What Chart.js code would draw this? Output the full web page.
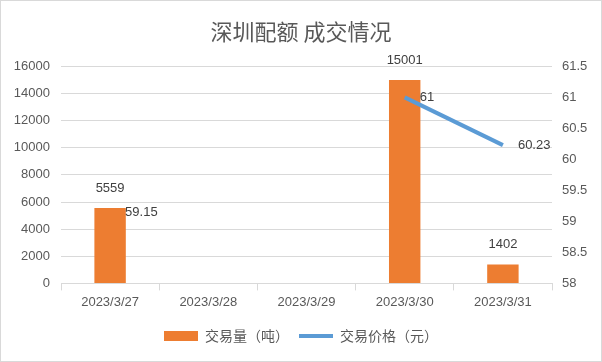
<!DOCTYPE html>
<html>
<head>
<meta charset="utf-8">
<script src="https://cdn.jsdelivr.net/npm/chart.js@4"></script>
<style>
html,body{margin:0;padding:0;background:#fff;}
#wrap{width:600px;height:360px;border:1px solid #d9d9d9;}
canvas{display:block;}
</style>
</head>
<body>
<div id="wrap"><canvas id="c" width="600" height="360"></canvas></div>
<script>
const categories = ['2023/3/27', '2023/3/28', '2023/3/29', '2023/3/30', '2023/3/31'];
const volume = [5559, null, null, 15001, 1402];
const price = [59.15, null, null, 61, 60.23];
const volumeLabels = ['5559', '', '', '15001', '1402'];
const priceLabels = ['59.15', '', '', '61', '60.23'];

const FONT = "'Liberation Sans', Arial, 'Noto Sans CJK SC', sans-serif";
const CJK = "'Noto Sans CJK SC', 'Liberation Sans', sans-serif";
const TXT = '#595959';

const labelPlugin = {
  id: 'labels',
  afterDatasetsDraw(chart) {
    const ctx = chart.ctx;
    ctx.save();
    ctx.font = '13px ' + FONT;
    ctx.fillStyle = '#404040';
    const barMeta = chart.getDatasetMeta(0);
    barMeta.data.forEach((el, i) => {
      if (volume[i] == null) return;
      ctx.textAlign = 'center';
      ctx.textBaseline = 'middle';
      ctx.fillText(volumeLabels[i], el.x, el.y - 20);
    });
    const lineMeta = chart.getDatasetMeta(1);
    lineMeta.data.forEach((el, i) => {
      if (price[i] == null) return;
      ctx.textAlign = 'left';
      ctx.textBaseline = 'middle';
      ctx.fillText(priceLabels[i], el.x + 15, el.y);
    });
    ctx.restore();
  }
};

new Chart(document.getElementById('c'), {
  data: {
    labels: categories,
    datasets: [
      {
        type: 'bar',
        label: '交易量（吨）',
        data: volume,
        backgroundColor: '#ed7d31',
        yAxisID: 'y',
        order: 2,
        barPercentage: 0.64,
        categoryPercentage: 0.5
      },
      {
        type: 'line',
        label: '交易价格（元）',
        data: price,
        borderColor: '#5b9bd5',
        backgroundColor: '#5b9bd5',
        borderWidth: 4,
        borderCapStyle: 'butt',
        pointRadius: 0,
        pointHoverRadius: 0,
        spanGaps: false,
        yAxisID: 'y1',
        order: 1
      }
    ]
  },
  options: {
    responsive: false,
    animation: false,
    layout: { padding: { left: 0, right: 0, top: 0, bottom: 8 } },
    plugins: {
      title: {
        display: true,
        text: '深圳配额 成交情况',
        color: TXT,
        font: { family: CJK, size: 22, weight: 'normal' },
        padding: { top: 17, bottom: 22 }
      },
      legend: {
        position: 'bottom',
        labels: {
          color: TXT,
          font: { family: CJK, size: 14 },
          usePointStyle: true,
          pointStyleWidth: 34,
          boxHeight: 10,
          padding: 10,
          generateLabels(chart) {
            return [
              { text: '交易量（吨）', fillStyle: '#ed7d31', strokeStyle: '#ed7d31', lineWidth: 0, pointStyle: 'rect', datasetIndex: 0, fontColor: TXT },
              { text: '交易价格（元）', fillStyle: '#5b9bd5', strokeStyle: '#5b9bd5', lineWidth: 4, pointStyle: 'line', datasetIndex: 1, fontColor: TXT }
            ];
          }
        }
      },
      tooltip: { enabled: false }
    },
    scales: {
      x: {
        offset: true,
        grid: { offset: true, drawOnChartArea: false, drawTicks: true, tickLength: 7, color: '#d9d9d9' },
        border: { color: '#d9d9d9' },
        ticks: { color: TXT, font: { family: FONT, size: 13 }, padding: 4, maxRotation: 0 },
        afterFit(s) { s.height += 5; }
      },
      y: {
        position: 'left',
        min: 0, max: 16000,
        ticks: { stepSize: 2000, color: TXT, font: { family: FONT, size: 13 }, padding: 11, callback: v => String(v) },
        grid: { color: '#d9d9d9', drawTicks: false },
        border: { display: false },
        afterFit(s) { s.width = 60; }
      },
      y1: {
        position: 'right',
        min: 58, max: 61.5,
        ticks: { stepSize: 0.5, color: TXT, font: { family: FONT, size: 13 }, padding: 10, callback: v => String(Math.round(v * 10) / 10) },
        grid: { drawOnChartArea: false, drawTicks: false },
        border: { display: false },
        afterFit(s) { s.width = 49; }
      }
    }
  },
  plugins: [labelPlugin]
});
</script>
</body>
</html>
